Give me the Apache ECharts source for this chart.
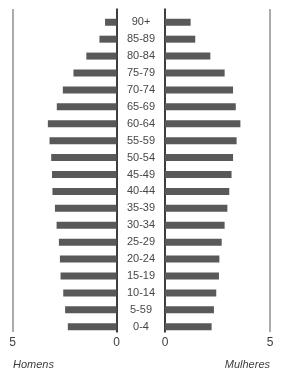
<!DOCTYPE html>
<html>
<head>
<meta charset="utf-8">
<script src="https://cdn.jsdelivr.net/npm/echarts@6/dist/echarts.min.js"></script>
<style>
html,body{margin:0;padding:0;background:#fff;}
#main{width:285px;height:377px;}
</style>
</head>
<body>
<div id="main"></div>
<script>
const categories = ['90+','85-89','80-84','75-79','70-74','65-69','60-64','55-59','50-54','45-49','40-44','35-39','30-34','25-29','20-24','15-19','10-14','5-59','0-4'];
const homens = [0.55,0.82,1.45,2.07,2.58,2.87,3.30,3.22,3.14,3.10,3.08,2.96,2.88,2.77,2.72,2.69,2.56,2.47,2.34];
const mulheres = [1.22,1.44,2.16,2.84,3.24,3.37,3.59,3.41,3.24,3.17,3.06,2.97,2.84,2.70,2.59,2.57,2.44,2.33,2.22];
const axisTicks = [0,5];
const leftName = 'Homens';
const rightName = 'Mulheres';

const FONT = '"Liberation Sans Narrow", "Liberation Sans", Arial, sans-serif';
const chart = echarts.init(document.getElementById('main'), null, {renderer:'canvas'});

const barTop = 13.8, barH = 321.4;
const lineTop = 9, lineH = 323;
const L = {left:12.5, width:104};
const R = {left:165, width:105};

const option = {
  animation:false,
  backgroundColor:'#fff',
  textStyle:{fontFamily:FONT},
  title:[
    {text:leftName, left:13, top:359, padding:0,
     textStyle:{fontSize:11, fontStyle:'italic', fontWeight:'normal', color:'#404040', fontFamily:FONT}},
    {text:rightName, right:15, top:359, padding:0,
     textStyle:{fontSize:11, fontStyle:'italic', fontWeight:'normal', color:'#404040', fontFamily:FONT}}
  ],
  grid:[
    {left:L.left, width:L.width, top:lineTop, height:lineH, containLabel:false},
    {left:R.left, width:R.width, top:lineTop, height:lineH, containLabel:false},
    {left:L.left, width:L.width, top:barTop, height:barH, containLabel:false},
    {left:R.left, width:R.width, top:barTop, height:barH, containLabel:false}
  ],
  xAxis:[
    {gridIndex:0, type:'value', inverse:true, min:axisTicks[0], max:axisTicks[1], interval:5,
     axisLine:{show:false}, axisTick:{show:false},
     splitLine:{show:true, lineStyle:{color:'#8f8f8f', width:1.5}},
     axisLabel:{color:'#404040', fontSize:12, margin:5, fontFamily:FONT}},
    {gridIndex:1, type:'value', min:axisTicks[0], max:axisTicks[1], interval:5,
     axisLine:{show:false}, axisTick:{show:false},
     splitLine:{show:true, lineStyle:{color:'#8f8f8f', width:1.5}},
     axisLabel:{color:'#404040', fontSize:12, margin:5, fontFamily:FONT}},
    {gridIndex:2, type:'value', inverse:true, min:0, max:5, show:false},
    {gridIndex:3, type:'value', min:0, max:5, show:false}
  ],
  yAxis:[
    {gridIndex:0, type:'value', position:'right', min:0, max:1,
     axisLine:{show:true, lineStyle:{color:'#1a1a1a', width:1.5}},
     axisTick:{show:false}, axisLabel:{show:false}, splitLine:{show:false}},
    {gridIndex:1, type:'value', position:'left', min:0, max:1,
     axisLine:{show:true, lineStyle:{color:'#1a1a1a', width:1.5}},
     axisTick:{show:false}, axisLabel:{show:false}, splitLine:{show:false}},
    {gridIndex:2, type:'category', data:categories, inverse:true, show:false},
    {gridIndex:3, type:'category', data:categories, inverse:true, position:'left',
     axisLine:{show:false}, axisTick:{show:false}, splitLine:{show:false},
     axisLabel:{show:true, align:'center', margin:24, color:'#474747', fontSize:11, fontFamily:FONT}}
  ],
  series:[
    {type:'bar', name:leftName, xAxisIndex:2, yAxisIndex:2, data:homens, barWidth:7,
     itemStyle:{color:'#595959'}, silent:true},
    {type:'bar', name:rightName, xAxisIndex:3, yAxisIndex:3, data:mulheres, barWidth:7,
     itemStyle:{color:'#595959'}, silent:true}
  ]
};
chart.setOption(option);
</script>
</body>
</html>
